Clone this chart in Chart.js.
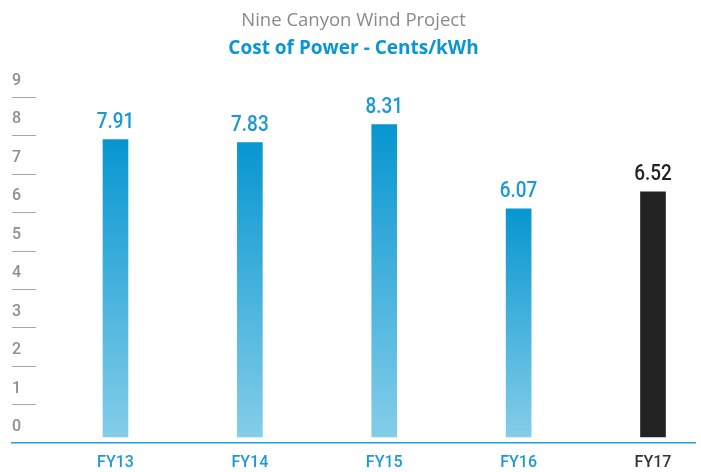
<!DOCTYPE html>
<html>
<head>
<meta charset="utf-8">
<script src="https://cdn.jsdelivr.net/npm/chart.js@4.4.0/dist/chart.umd.min.js"></script>
<style>
html,body{margin:0;padding:0;background:#ffffff;}
#wrap{width:701px;height:472px;position:relative;}
</style>
</head>
<body>
<div id="wrap"><canvas id="c" width="701" height="472"></canvas></div>
<script>
// ---- data ----
const categories = ['FY13', 'FY14', 'FY15', 'FY16', 'FY17'];
const costValues = [7.91, 7.83, 8.31, 6.07, 6.52];
const yTickLabels = [0, 1, 2, 3, 4, 5, 6, 7, 8, 9];
const titleText = 'Nine Canyon Wind Project';
const subtitleText = 'Cost of Power - Cents/kWh';

// ---- styles ----
const BLUE = '#1898d5';
const DARK = '#222222';
const lastIndex = categories.length - 1;

const barData = costValues.map((v, i) => ({ x: i, y: v }));

// y2 ticks: labels on integers, dashes half-way between labels
const y2Ticks = [];
yTickLabels.forEach(v => { y2Ticks.push(v); if (v < yTickLabels[yTickLabels.length - 1]) y2Ticks.push(v + 0.5); });

const valueLabels = {
  id: 'valueLabels',
  afterDatasetsDraw(chart) {
    const meta = chart.getDatasetMeta(0);
    const c = chart.ctx;
    meta.data.forEach((el, i) => {
      c.save();
      c.font = '500 22px Roboto, "Liberation Sans", sans-serif';
      c.fillStyle = i === lastIndex ? DARK : BLUE;
      c.textAlign = 'center';
      c.textBaseline = 'alphabetic';
      c.translate(el.x, el.y - 12);
      c.scale(0.86, 1);
      c.fillText(costValues[i].toFixed(2), 0, 0);
      c.restore();
    });
  }
};

new Chart(document.getElementById('c'), {
  type: 'bar',
  data: {
    datasets: [{
      data: barData,
      xAxisID: 'x',
      yAxisID: 'y',
      barThickness: 25,
      borderWidth: 0,
      backgroundColor: (ctx) => {
        if (ctx.type !== 'data') return BLUE;
        const i = ctx.dataIndex;
        if (i === lastIndex) return DARK;
        const chart = ctx.chart;
        const ys = chart.scales.y;
        if (!ys || !chart.chartArea) return BLUE;
        const top = ys.getPixelForValue(costValues[i]);
        const bot = ys.getPixelForValue(0);
        if (!isFinite(top) || !isFinite(bot) || top === bot) return BLUE;
        const g = chart.ctx.createLinearGradient(0, top, 0, bot);
        g.addColorStop(0, '#0796d0');
        g.addColorStop(1, '#84cde9');
        return g;
      }
    }]
  },
  options: {
    responsive: false,
    animation: false,
    events: [],
    layout: { padding: { left: 0, right: 6, top: 0, bottom: 0 } },
    plugins: {
      legend: { display: false },
      tooltip: { enabled: false },
      title: {
        display: true,
        text: titleText,
        fullSize: false,
        color: '#8a8a8a',
        font: { family: '"Open Sans", "Noto Sans", sans-serif', size: 18.5, weight: '400', lineHeight: 1.2 },
        padding: { top: 10, bottom: 0 }
      },
      subtitle: {
        display: true,
        text: subtitleText,
        fullSize: false,
        color: '#0a96d2',
        font: { family: '"Open Sans", "Noto Sans", sans-serif', size: 19, weight: '700', lineHeight: 1.2 },
        padding: { top: 5, bottom: 2.2 }
      }
    },
    scales: {
      x: {
        type: 'linear',
        position: 'bottom',
        min: -0.7702,
        max: 4.3126,
        offset: false,
        afterBuildTicks: s => { s.ticks = categories.map((_, i) => ({ value: i })); },
        afterFit: s => { s.height = 29.5; },
        grid: { display: false, drawTicks: false },
        border: { display: true, color: '#1aa3dc', width: 1.5 },
        ticks: {
          autoSkip: false,
          maxRotation: 0,
          padding: 11,
          color: (c) => (c.index === lastIndex ? '#333333' : '#1c9ad6'),
          font: { family: 'Roboto, sans-serif', size: 16, weight: '500' },
          callback: (v) => categories[v]
        }
      },
      y: {
        display: false,
        min: -0.1463,
        max: 9.968
      },
      y2: {
        position: 'left',
        min: -0.481,
        max: 9.412,
        afterBuildTicks: s => { s.ticks = y2Ticks.map(v => ({ value: v })); },
        afterFit: s => { s.width = 12; },
        border: { display: false },
        grid: {
          drawOnChartArea: false,
          drawTicks: true,
          tickLength: -24,
          lineWidth: 1,
          color: (c) => (c.tick && c.tick.value % 1 !== 0 ? '#a8a8a8' : 'rgba(0,0,0,0)')
        },
        ticks: {
          mirror: true,
          autoSkip: false,
          padding: 0,
          labelOffset: 3,
          color: '#8f8f8f',
          font: { family: 'Roboto, sans-serif', size: 16, weight: '500' },
          callback: (v) => (Number.isInteger(v) ? String(v) : '')
        }
      }
    }
  },
  plugins: [valueLabels]
});
</script>
</body>
</html>
